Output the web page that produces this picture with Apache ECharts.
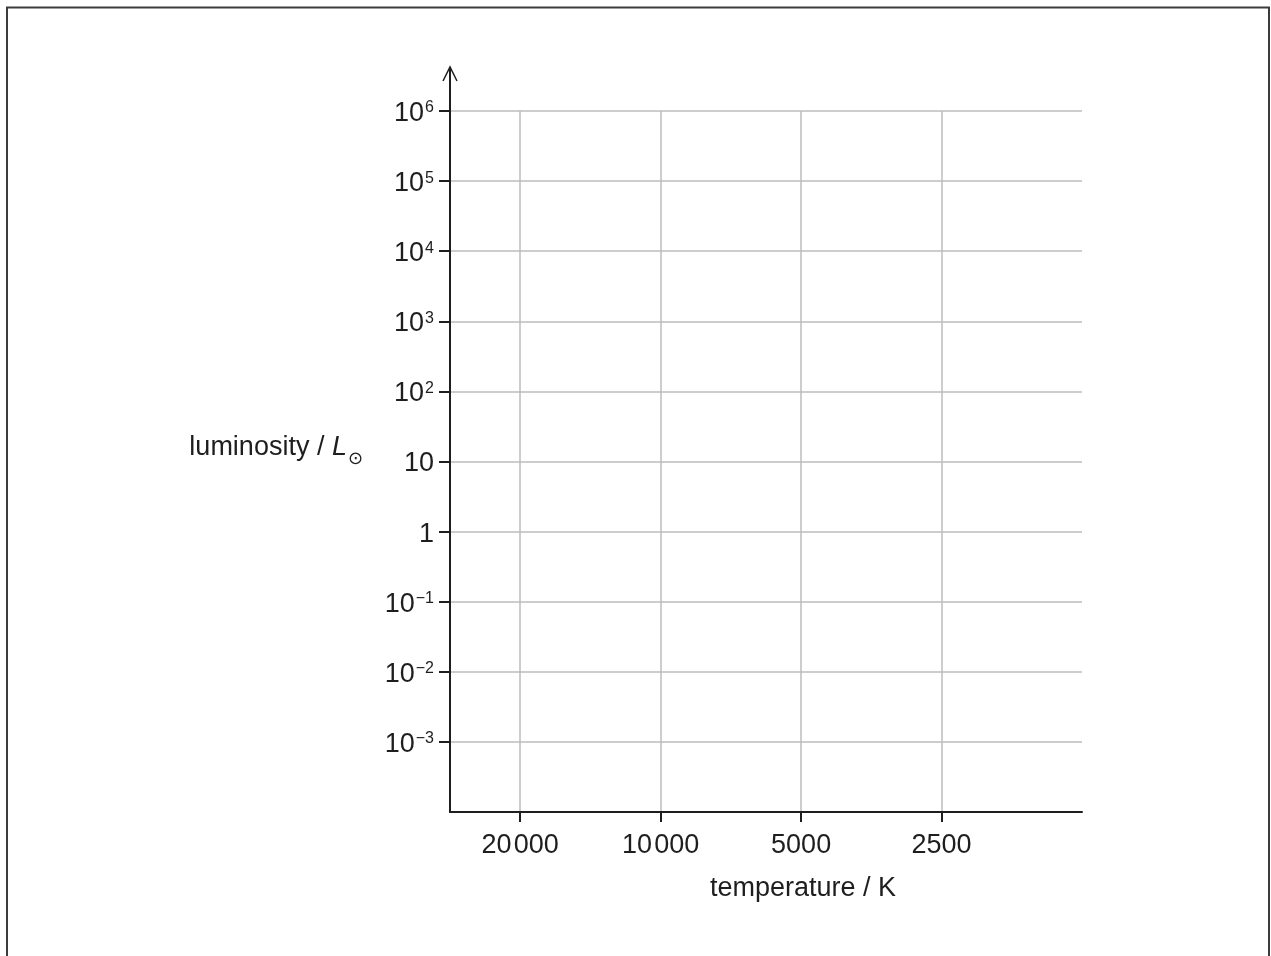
<!DOCTYPE html>
<html>
<head>
<meta charset="utf-8">
<script src="https://cdn.jsdelivr.net/npm/echarts@6/dist/echarts.min.js"></script>
<style>
  html, body { margin: 0; padding: 0; background: #fff; }
  #chart { width: 1271px; height: 956px; }
</style>
</head>
<body>
<div id="chart"></div>
<script>
// Temperature scale: one step per halving of T, counted from tempBase; hotter stars on the left
const tempBase = 1250;
const tempTicks = [20000, 10000, 5000, 2500];
const tempLabels = ['20\u200a000', '10\u200a000', '5000', '2500'];
const tempRange = [1250, 28284];

// Luminosity scale: decades of solar luminosity
const lumExponents = [-3, -2, -1, 0, 1, 2, 3, 4, 5, 6];
const lumRange = [-4, 6];

const xName = 'temperature / K';
const yNameParts = ['luminosity / ', 'L', '\u2299'];

const toStep = t => Math.log2(t / tempBase);
const tempTickSteps = tempTicks.map(toStep);

function tempLabel(v) {
  const i = tempTickSteps.findIndex(s => Math.abs(s - v) < 1e-6);
  return i >= 0 ? tempLabels[i] : '';
}

function lumLabel(e) {
  if (e === 0) return '1';
  if (e === 1) return '10';
  const exp = e < 0 ? '\u2212' + (-e) : String(e);
  return '10{s|' + exp + '}';
}

const ink = '#1e1e1e';
const gridGray = '#bdbdbd';
const font = 'Liberation Sans, Arial, sans-serif';
const fs = 27;

const chart = echarts.init(document.getElementById('chart'), null, { renderer: 'canvas' });

const option = {
  backgroundColor: '#ffffff',
  animation: false,
  grid: { left: 450, right: 189, top: 111, bottom: 144 },
  xAxis: {
    type: 'value',
    inverse: true,
    min: toStep(tempRange[0]),
    max: toStep(tempRange[1]),
    interval: 1,
    name: xName,
    nameLocation: 'middle',
    nameGap: 63,
    nameTextStyle: { color: ink, fontFamily: font, fontSize: fs, padding: [0, 0, 0, 74] },
    axisLine: { show: true, onZero: false, lineStyle: { color: ink, width: 2 } },
    axisTick: { show: true, length: 10, customValues: tempTickSteps, lineStyle: { color: ink, width: 2 } },
    axisLabel: {
      customValues: tempTickSteps,
      formatter: tempLabel,
      margin: 20,
      color: ink, fontFamily: font, fontSize: fs
    },
    splitLine: { show: true, lineStyle: { color: gridGray, width: 1.5 } }
  },
  yAxis: {
    type: 'value',
    min: lumRange[0],
    max: lumRange[1],
    interval: 1,
    name: '{n|' + yNameParts[0] + '}{l|' + yNameParts[1] + '}{o|' + yNameParts[2] + '}',
    nameLocation: 'middle',
    nameRotate: 0,
    nameGap: 87,
    nameTextStyle: {
      align: 'right',
      verticalAlign: 'middle',
      padding: [0, 0, 28, 0],
      color: ink, fontFamily: font, fontSize: fs,
      rich: {
        n: { color: ink, fontFamily: font, fontSize: fs, lineHeight: 30 },
        l: { color: ink, fontFamily: font, fontSize: fs, fontStyle: 'italic', lineHeight: 30 },
        o: { color: ink, fontFamily: 'DejaVu Sans', fontSize: 18, lineHeight: 6, padding: [23, 0, 0, 1] }
      }
    },
    axisLine: { show: true, onZero: false, lineStyle: { color: ink, width: 2 } },
    axisTick: { show: true, length: 11, customValues: lumExponents, lineStyle: { color: ink, width: 2 } },
    axisLabel: {
      customValues: lumExponents,
      formatter: lumLabel,
      margin: 16,
      padding: [5, 0, 0, 0],
      color: ink, fontFamily: font, fontSize: fs, lineHeight: 30,
      rich: {
        s: { color: ink, fontFamily: font, fontSize: 16, lineHeight: 16, padding: [0, 0, 11, 1] }
      }
    },
    splitLine: { show: true, lineStyle: { color: gridGray, width: 1.5 } }
  },
  series: []
};

chart.setOption(option);

// Frame around the figure, and the luminosity axis continued upward into an open arrow
const axisTop = chart.convertToPixel({ gridIndex: 0 }, [toStep(tempRange[1]), lumRange[1]]);
const ax = axisTop[0];
const tipY = axisTop[1] - 44;
chart.setOption({
  graphic: [
    {
      type: 'rect',
      shape: { x: 7, y: 7.5, width: 1262, height: 1000 },
      style: { fill: 'none', stroke: '#3c3c3c', lineWidth: 2 },
      silent: true
    },
    {
      type: 'polyline',
      shape: { points: [[ax, axisTop[1]], [ax, tipY]] },
      style: { stroke: ink, lineWidth: 2, fill: 'none' },
      silent: true
    },
    {
      type: 'polyline',
      shape: { points: [[ax - 7, tipY + 14], [ax, tipY], [ax + 7, tipY + 14]] },
      style: { stroke: ink, lineWidth: 1.5, fill: 'none' },
      silent: true
    }
  ]
});
</script>
</body>
</html>
